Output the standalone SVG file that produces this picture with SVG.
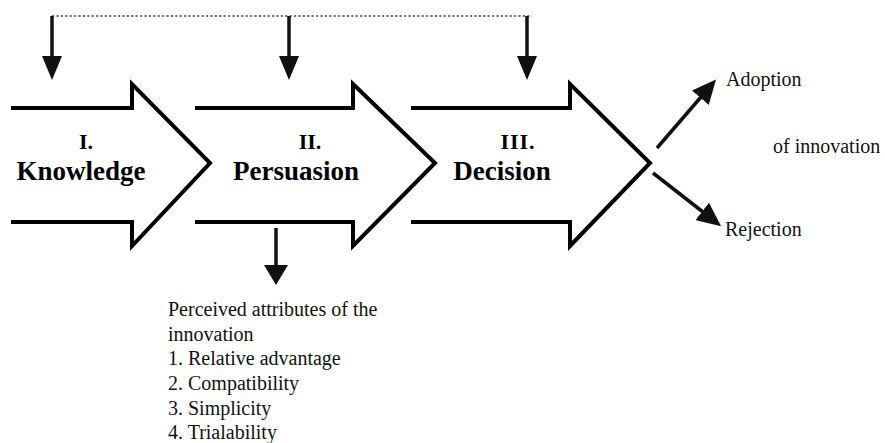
<svg xmlns="http://www.w3.org/2000/svg" width="885" height="443" viewBox="0 0 885 443">
<defs>
<style>
.stage{fill:none;stroke:#000;stroke-width:4;stroke-linejoin:miter;stroke-miterlimit:10}
.ln{stroke:#111;stroke-width:3.5;fill:none}
.dot{stroke:#444;stroke-width:1.6;stroke-dasharray:2.2 2.2;fill:none}
.lbl{font-family:"Liberation Serif","DejaVu Serif",serif;font-weight:bold;fill:#000;text-anchor:middle}
.txt{font-family:"Liberation Serif","DejaVu Serif",serif;font-size:20px;fill:#111}
</style>
<marker id="hd" markerUnits="userSpaceOnUse" markerWidth="24" markerHeight="20" refX="1" refY="10" orient="auto" viewBox="0 0 24 20">
<path d="M0,0 L24,10 L0,20 Z" fill="#111"/>
</marker>
<marker id="hd3" markerUnits="userSpaceOnUse" markerWidth="24" markerHeight="22" refX="1" refY="11" orient="auto" viewBox="0 0 24 22">
<path d="M0,0 L24,11 L0,22 Z" fill="#111"/>
</marker>
<marker id="hd2" markerUnits="userSpaceOnUse" markerWidth="20" markerHeight="24" refX="1" refY="12" orient="auto" viewBox="0 0 20 24">
<path d="M0,0 L20,12 L0,24 Z" fill="#111"/>
</marker>
</defs>
<rect width="885" height="443" fill="#fff"/>
<g id="connectors">
<line class="dot" x1="52" y1="16" x2="532" y2="16"/>
<line class="ln" x1="52" y1="16" x2="52" y2="57" marker-end="url(#hd)"/>
<line class="ln" x1="289" y1="16" x2="289" y2="57" marker-end="url(#hd)"/>
<line class="ln" x1="527" y1="16" x2="527" y2="57" marker-end="url(#hd)"/>
<line class="ln" x1="276" y1="228" x2="276" y2="266" marker-end="url(#hd2)"/>
<line class="ln" x1="657" y1="148" x2="701" y2="97" stroke-width="4.5" marker-end="url(#hd3)"/>
<line class="ln" x1="653" y1="173" x2="703" y2="212" stroke-width="4.5" marker-end="url(#hd3)"/>
</g>
<g id="knowledge">
<path class="stage" d="M11,108 H132 V84 L210,163 L132,246 V222 H11"/>
<text class="lbl" x="86" y="149" font-size="22">I.</text>
<text class="lbl" x="81" y="180" font-size="27">Knowledge</text>
</g>
<g id="persuasion">
<path class="stage" d="M195,108 H353 V84 L435,163 L353,246 V222 H195"/>
<text class="lbl" x="310" y="149" font-size="22">II.</text>
<text class="lbl" x="296" y="180" font-size="27">Persuasion</text>
</g>
<g id="decision">
<path class="stage" d="M411,108 H570 V84 L650,163 L570,246 V222 H411"/>
<text class="lbl" x="518" y="149" font-size="22" letter-spacing="1">III.</text>
<text class="lbl" x="502" y="180" font-size="27">Decision</text>
</g>
<g id="outcomes">
<text class="txt" x="726" y="86">Adoption</text>
<text class="txt" x="773" y="153">of innovation</text>
<text class="txt" x="725" y="236">Rejection</text>
</g>
<g id="attributes">
<text class="txt" x="168" y="316">Perceived attributes of the</text>
<text class="txt" x="168" y="341">innovation</text>
<text class="txt" x="168" y="365">1. Relative advantage</text>
<text class="txt" x="168" y="390">2. Compatibility</text>
<text class="txt" x="168" y="415">3. Simplicity</text>
<text class="txt" x="168" y="439">4. Trialability</text>
</g>
</svg>
